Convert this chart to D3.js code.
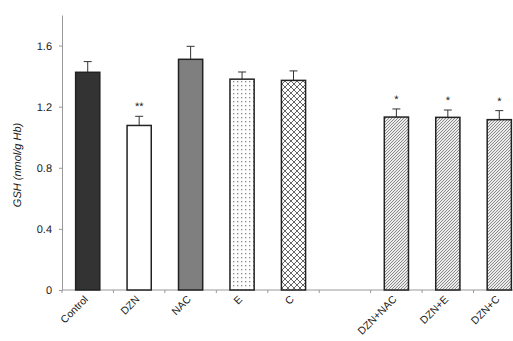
<!DOCTYPE html>
<html><head><meta charset="utf-8">
<script src="https://cdn.jsdelivr.net/npm/d3@7"></script>
<style>body{margin:0;background:#fff}svg{display:block}text{text-rendering:geometricPrecision}</style>
</head><body><svg id="c" width="513" height="341"></svg>
<script>
const categories = ["Control","DZN","NAC","E","C","","DZN+NAC","DZN+E","DZN+C"];
const values =     [1.425, 1.077, 1.51, 1.38, 1.372, null, 1.132, 1.130, 1.115];
const errors =     [0.070, 0.060, 0.085, 0.047, 0.062, null, 0.053, 0.048, 0.059];
const marks =      ["", "**", "", "", "", "", "*", "*", "*"];
const fills =      ["#333333","#ffffff","#7f7f7f","url(#dots)","url(#cross)",null,"url(#hatch)","url(#hatch)","url(#hatch)"];
const yTicks = [0, 0.4, 0.8, 1.2, 1.6];

const svg = d3.select("#c");
const defs = svg.append("defs");
const pd = defs.append("pattern").attr("id","dots").attr("patternUnits","userSpaceOnUse").attr("width",4).attr("height",4);
pd.append("rect").attr("width",4).attr("height",4).attr("fill","#fff");
pd.append("rect").attr("x",1).attr("y",1).attr("width",1.3).attr("height",1.3).attr("fill","#8a8a8a");
const pc = defs.append("pattern").attr("id","cross").attr("patternUnits","userSpaceOnUse").attr("width",6).attr("height",6);
pc.append("rect").attr("width",6).attr("height",6).attr("fill","#fff");
pc.append("path").attr("d","M0,0L6,6M6,0L0,6").attr("stroke","#555").attr("stroke-width",0.9);
const ph = defs.append("pattern").attr("id","hatch").attr("patternUnits","userSpaceOnUse").attr("width",3).attr("height",3);
ph.append("rect").attr("width",3).attr("height",3).attr("fill","#ececec");
ph.append("path").attr("d","M0,3L3,0M-1,1L1,-1M2,4L4,2").attr("stroke","#707070").attr("stroke-width",0.8);

const x = d3.scaleBand().domain(categories.map((d,i)=>i)).range([62,525]).paddingInner(0.53).paddingOuter(0.265);
const y = d3.scaleLinear().domain([0,1.8]).range([290,15]);

const ya = svg.append("g").attr("transform","translate(62,0)")
  .call(d3.axisLeft(y).tickValues(yTicks).tickFormat(d=>d===0?"0":d3.format(".1f")(d)).tickSize(3).tickSizeOuter(0));
ya.select(".domain").attr("stroke","#999");
ya.selectAll(".tick line").attr("stroke","#999");
ya.selectAll("text").attr("font-family","Liberation Sans, Arial, sans-serif").attr("font-size",11).attr("fill","#222").attr("dx",-4);

const bandStep = x.step();
const xa = svg.append("g").attr("transform","translate(0,290)");
xa.append("line").attr("x1",62).attr("x2",525).attr("stroke","#999");
const boundaries = d3.range(categories.length+1).map(i => 62 + i*bandStep);
xa.selectAll(".tk").data(boundaries).join("line").attr("class","tk")
  .attr("x1",d=>d).attr("x2",d=>d).attr("y1",0).attr("y2",3).attr("stroke","#999");
xa.selectAll(".lb").data(categories).join("text").attr("class","lb")
  .attr("transform",(d,i)=>`translate(${x(i)+x.bandwidth()/2+1},10) rotate(-45)`)
  .attr("text-anchor","end").attr("font-family","Liberation Sans, Arial, sans-serif")
  .attr("font-size",10.5).attr("fill","#222").text(d=>d);

const data = categories.map((c,i)=>({i, v:values[i], e:errors[i], m:marks[i], f:fills[i]})).filter(d=>d.v!=null);
const g = svg.append("g");
g.selectAll(".err").data(data).join("path").attr("class","err")
  .attr("d",d=>{const cx=x(d.i)+x.bandwidth()/2, t=y(d.v+d.e);return `M${cx},${y(d.v)}V${t}M${cx-4},${t}H${cx+4}`;})
  .attr("stroke","#333").attr("stroke-width",1).attr("fill","none");
g.selectAll(".bar").data(data).join("rect").attr("class","bar")
  .attr("x",d=>x(d.i)).attr("width",x.bandwidth())
  .attr("y",d=>y(d.v)).attr("height",d=>y(0)-y(d.v))
  .attr("fill",d=>d.f).attr("stroke","#222").attr("stroke-width",1.5);
g.selectAll(".mk").data(data.filter(d=>d.m)).join("text").attr("class","mk")
  .attr("x",d=>x(d.i)+x.bandwidth()/2).attr("y",d=>y(d.v+d.e)-6)
  .attr("text-anchor","middle").attr("font-family","Liberation Sans, Arial, sans-serif")
  .attr("font-size",11).attr("fill","#222").text(d=>d.m);

svg.append("text").attr("transform","translate(21,165) rotate(-90)").attr("text-anchor","middle")
  .attr("font-family","Liberation Sans, Arial, sans-serif").attr("font-style","italic")
  .attr("font-size",11).attr("fill","#222").text("GSH (nmol/g Hb)");
</script></body></html>
